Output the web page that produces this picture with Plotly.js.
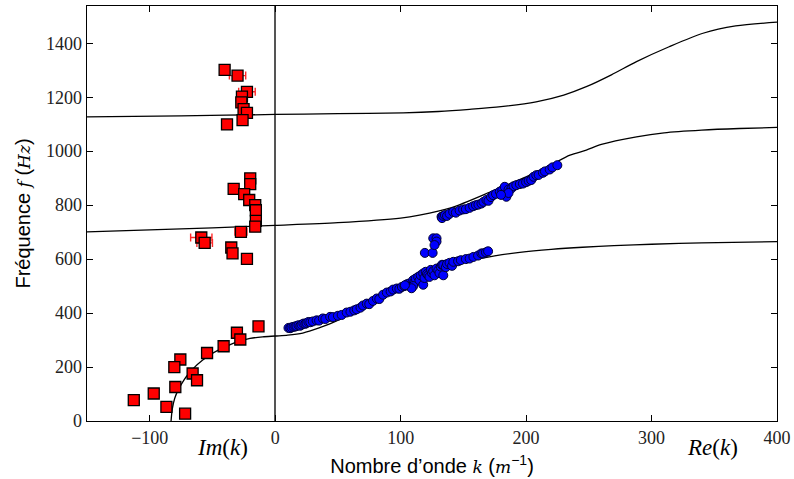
<!DOCTYPE html>
<html>
<head>
<meta charset="utf-8">
<script src="https://cdn.plot.ly/plotly-3.0.1.min.js"></script>
<style>html,body{margin:0;padding:0;background:#fff;}#chart{width:794px;height:479px;}</style>
</head>
<body>
<div id="chart"></div>
<script>
// Imaginary-part measurements (plotted on the negative k side)
const imK = [-40.3,-30,-22.5,-26.5,-27,-25.2,-22.5,-26,-38.4,-19.9,-19.9,-33.1,-24.7,-20.7,-15.9,-15.4,-15.4,-15.9,-27.3,-58.9,-56.2,-35,-34,-22.5,-13.3,-30.5,-27.8,-41.1,-54.3,-75.6,-80.4,-65.8,-62.3,-79.6,-96.8,-112.7,-86.7,-71.8];
const imF = [1301,1280,1220,1202,1181,1156,1142,1115,1099,899,878,860,841,819,800,781,742,720,701,680,660,643,621,601,351,327,302,277,252,228,200,176,151,126,102,77,52,27];
const imErr = [0,6.5,6.6,0,0,0,0,0,0,0,0,0,0,0,0,0,0,0,4.8,8.5,6.2,0,0,0,0,0,0,0,0,0,0,0,0,0,0,0,0,0];

// Real-part measurements
const reK = [10.6,12,13,14.6,16,17,18.6,20,21,22.5,24,25,26.5,28,30,33,35,38,40,43.8,46,50,53,57,60,63,65,68,70,73,75,78,81,83,86,89,92,94,97,99,101,103,105,107,108,110,111,112,114,115,116,118,118,110,108.7,103.4,119,120,121,122,123,124,125,126,127,128.6,130,131,132,133,134,134,136,137,139,141,142,145.8,148,152,155,158,161.7,164.4,165.7,168,169.7,119.3,125.5,126,128.6,128.6,127,
  132.6,133,134,135.3,137,139,141.9,144,147,149.8,152,155,157.8,160,162,164.4,166,168.4,170,172,173.7,176,179,181,183,184.3,186,188.3,190,192.2,195,197.5,200,202,204.1,206,208.1,210,213.4,215,218.8,221,224.9,186,180];
const reF = [345,344,347,349,350,352,355,353,357,361,360,363,367,366,369,373,372,380,378,386,385,390,393,402,405,410,414,420,428,435,433,445,454,452,468,476,480,487,491,490,497,500,507,510,500,522,515,528,534,520,540,547,505,500,492,503,530,553,545,540,534,560,548,555,540,565,558,548,572,579,578,540,570,582,586,575,590,592,596,600,602,608,613,621,621,625,629,623,623,677,677,665,652,
  757,752,760,763,760,768,775,772,780,784,785,790,796,800,802,806,812,819,816,830,837,842,850,855,868,831,858,862,870,874,878,880,885,890,893,905,911,912,920,925,932,940,948,845,838];

// Model dispersion branches
const branch1K = [-83,-82,-80,-77,-73,-69,-65,-58,-52,-43,-33,-20,-10,0,10,22,35,49,62,76,90,102,115,129,142,155,175,195,220,245,270,300,340,400];
const branch1F = [0,45,85,118,150,175,196,225,245,268,289,306,312,315,318,326,345,371,405,441,475,503,530,553,575,594,612,625,636,644,650,655,660,665];
const branch2K = [-150,-100,-50,0,50,100,115,140,175,200,220,235,248,260,288,310,340,370,400];
const branch2F = [701,708,716,725,735,752,763,790,856,905,950,985,1004,1025,1053,1068,1078,1084,1088];
const branch3K = [-150,-75,0,50,102,130,155,180,208,230,248,268,288,314,341,367,400];
const branch3F = [1127,1131,1136,1139,1142,1147,1155,1165,1183,1208,1239,1283,1332,1387,1437,1464,1478];

const xTicks = [-100,0,100,200,300,400];
const yTicks = [0,200,400,600,800,1000,1200,1400];

const curveStyle = {color:'#000', width:1.3, shape:'spline', smoothing:0.8};
const traces = [
  {x:branch1K, y:branch1F, mode:'lines', line:curveStyle, hoverinfo:'skip'},
  {x:branch2K, y:branch2F, mode:'lines', line:curveStyle, hoverinfo:'skip'},
  {x:branch3K, y:branch3F, mode:'lines', line:curveStyle, hoverinfo:'skip'},
  {x:reK, y:reF, mode:'markers', marker:{symbol:'circle', size:9, color:'#0000ff', line:{color:'#000033', width:1}}},
  {x:imK, y:imF, mode:'markers', marker:{symbol:'square', size:11, color:'#ff0000', line:{color:'#000', width:1.3}},
   error_x:{type:'data', array:imErr, visible:true, color:'#ff2a2a', thickness:1.4, width:4}}
];

const serif = 'Liberation Serif, DejaVu Serif, serif';
const sans = 'Liberation Sans, Arial, sans-serif';
const it = s => '<span style="font-family:\'DejaVu Serif\';font-style:italic;font-size:17px">' + s + '</span>';
const layout = {
  width:794, height:479,
  margin:{l:87, r:17, t:6, b:58},
  paper_bgcolor:'#fff', plot_bgcolor:'#fff',
  showlegend:false,
  font:{family:serif, color:'#000'},
  xaxis:{range:[-150,400], tickvals:xTicks, ticks:'inside', ticklen:6, tickwidth:1, tickcolor:'#000',
    showline:true, linecolor:'#000', linewidth:1.3, mirror:'ticks', showgrid:false,
    zeroline:true, zerolinecolor:'#555', zerolinewidth:2,
    tickfont:{family:serif, size:18, color:'#222'},
    title:{text:'Nombre d’onde ' + it('k') + ' (' + it('m') + '<sup>−1</sup>)', font:{family:sans, size:20, color:'#000'}, standoff:12}},
  yaxis:{range:[0,1538], tickvals:yTicks, ticks:'inside', ticklen:6, tickwidth:1, tickcolor:'#000',
    showline:true, linecolor:'#000', linewidth:1.3, mirror:'ticks', showgrid:false, zeroline:false,
    tickfont:{family:serif, size:18, color:'#222'},
    title:{text:'Fréquence ' + it('f') + ' (' + it('Hz') + ')', font:{family:sans, size:20, color:'#000'}, standoff:10}},
  annotations:[
    {text:'<i>Im</i>(<i>k</i>)', xref:'paper', yref:'paper', x:0.196, y:-0.063, showarrow:false, xanchor:'center', yanchor:'middle', font:{family:serif, size:23, color:'#000'}},
    {text:'<i>Re</i>(<i>k</i>)', xref:'paper', yref:'paper', x:0.907, y:-0.063, showarrow:false, xanchor:'center', yanchor:'middle', font:{family:serif, size:23, color:'#000'}}
  ]
};
Plotly.newPlot('chart', traces, layout, {displayModeBar:false, staticPlot:true});
</script>
</body>
</html>
